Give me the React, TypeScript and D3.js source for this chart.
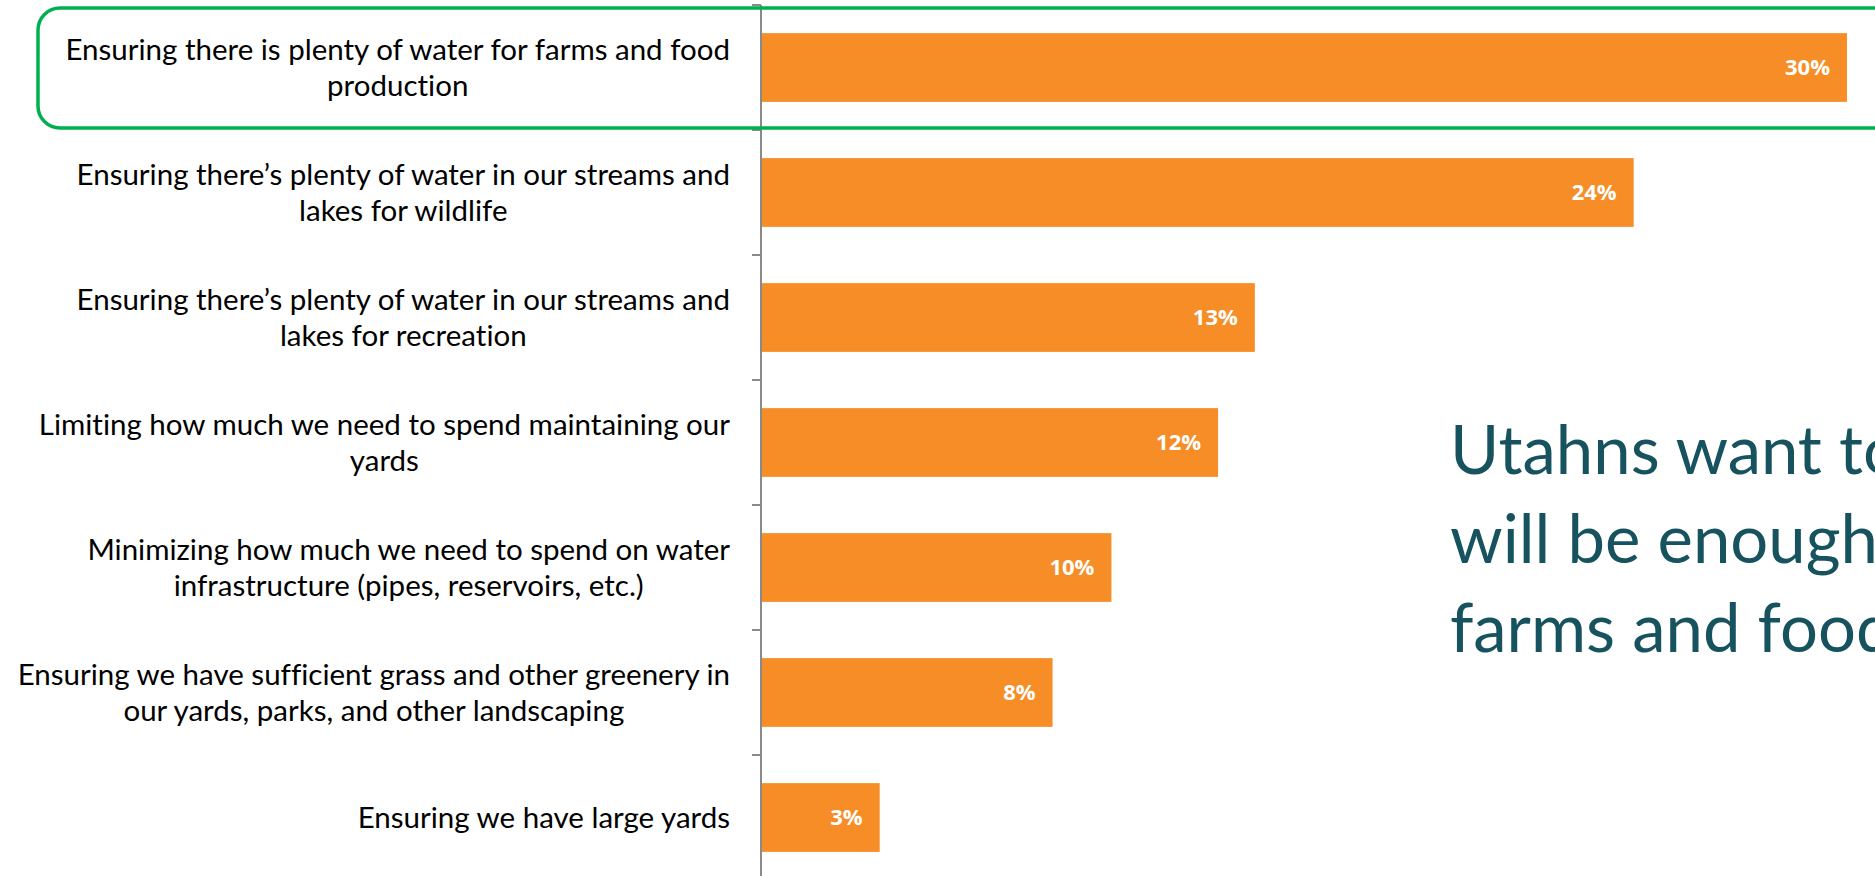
import React, { useEffect, useRef } from "react";
import * as d3 from "d3";

const categories: string[][] = [
  ["Ensuring there is plenty of water for farms and food", "production"],
  ["Ensuring there’s plenty of water in our streams and", "lakes for wildlife"],
  ["Ensuring there’s plenty of water in our streams and", "lakes for recreation"],
  ["Limiting how much we need to spend maintaining our", "yards"],
  ["Minimizing how much we need to spend on water", "infrastructure (pipes, reservoirs, etc.)"],
  ["Ensuring we have sufficient grass and other greenery in", "our yards, parks, and other landscaping"],
  ["Ensuring we have large yards"],
];
const values: number[] = [29.5, 23.7, 13.4, 12.4, 9.5, 7.9, 3.2];
const valueLabels: string[] = ["30%", "24%", "13%", "12%", "10%", "8%", "3%"];
const titleLines: string[] = ["Utahns want to", "will be enough", "farms and food"];

const W = 1875;
const H = 876;

export default function App() {
  const ref = useRef<SVGSVGElement | null>(null);

  useEffect(() => {
    document.body.style.margin = "0";
    const svg = d3.select(ref.current);
    svg.selectAll("*").remove();

    const axisX = 762;
    const y = d3
      .scaleBand<number>()
      .domain(d3.range(categories.length))
      .range([5, 880])
      .paddingInner(0.45)
      .paddingOuter(0.225);
    const x = d3.scaleLinear().domain([0, 30]).range([axisX, axisX + 30 * 36.78]);

    // bars
    svg
      .append("g")
      .selectAll("rect")
      .data(values)
      .join("rect")
      .attr("x", x(0))
      .attr("y", (_, i) => y(i)!)
      .attr("width", (d) => x(d) - x(0))
      .attr("height", y.bandwidth())
      .attr("fill", "#F68D26");

    // value labels
    svg
      .append("g")
      .selectAll("text")
      .data(values)
      .join("text")
      .attr("x", (d) => x(d) - 17)
      .attr("y", (_, i) => y(i)! + y.bandwidth() / 2)
      .attr("dy", "0.36em")
      .attr("text-anchor", "end")
      .attr("fill", "#ffffff")
      .attr("font-family", "'Open Sans', sans-serif")
      .attr("font-weight", 700)
      .attr("font-size", 22)
      .text((_, i) => valueLabels[i]);

    // axis line and ticks
    const step = y.step();
    const axis = svg.append("g").attr("stroke", "#8A8A8A").attr("stroke-width", 2);
    axis.append("line").attr("x1", axisX - 1).attr("x2", axisX - 1).attr("y1", 5).attr("y2", H);
    const tickYs = d3.range(categories.length + 1).map((i) => 5 + i * step);
    axis
      .selectAll("line.tick")
      .data(tickYs)
      .join("line")
      .attr("class", "tick")
      .attr("x1", axisX - 10)
      .attr("x2", axisX - 1)
      .attr("y1", (d) => d)
      .attr("y2", (d) => d);

    // category labels (centered block, right aligned)
    const rightEdge = 730;
    const lineGap = 36;
    const labelG = svg.append("g");
    categories.forEach((lines, i) => {
      const cy = y(i)! + y.bandwidth() / 2;
      const g = labelG.append("g");
      const texts = lines.map((ln, j) =>
        g
          .append("text")
          .attr("y", cy + (j - (lines.length - 1) / 2) * lineGap)
          .attr("dy", "0.36em")
          .attr("text-anchor", "middle")
          .attr("fill", "#000")
          .attr("font-family", "Lato, sans-serif")
          .attr("font-size", 29.5)
          .style("font-variant-ligatures", "none")
          .text(ln)
      );
      const maxW = d3.max(texts, (t) => (t.node() as SVGTextElement).getComputedTextLength()) || 0;
      texts.forEach((t) => t.attr("x", rightEdge - maxW / 2));
    });

    // title text on the right
    svg
      .append("g")
      .selectAll("text")
      .data(titleLines)
      .join("text")
      .attr("x", 1450)
      .attr("y", (_, i) => 474 + i * 89)
      .attr("fill", "#17535F")
      .attr("font-family", "Lato, sans-serif")
      .attr("font-size", 67)
      .style("font-variant-ligatures", "none")
      .text((d) => d);

    // green highlight rounded rectangle
    svg
      .append("rect")
      .attr("x", 38)
      .attr("y", 8)
      .attr("width", 1900)
      .attr("height", 120)
      .attr("rx", 22)
      .attr("fill", "none")
      .attr("stroke", "#00B050")
      .attr("stroke-width", 3.5);
  }, []);

  return (
    <svg
      ref={ref}
      width={W}
      height={H}
      style={{ display: "block", background: "#ffffff" }}
    />
  );
}
